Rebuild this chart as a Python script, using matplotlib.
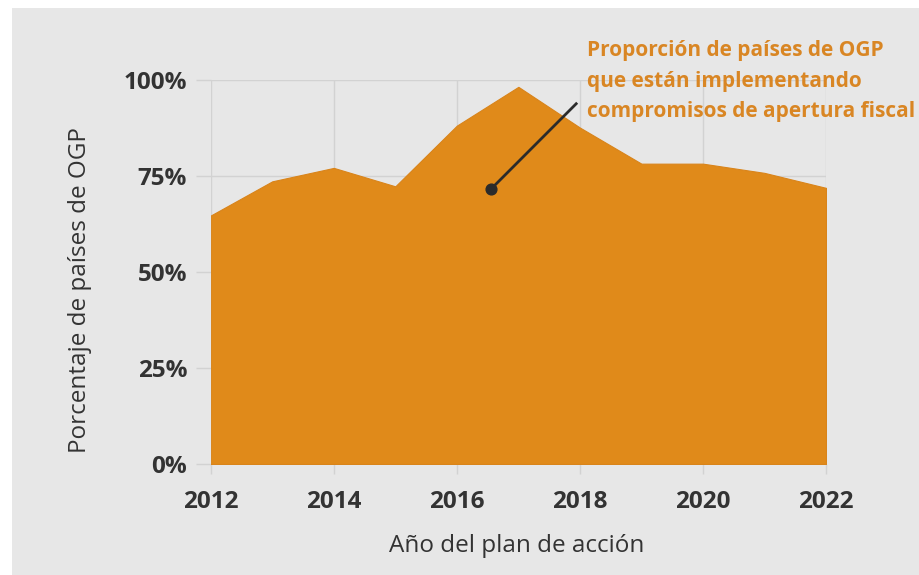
import matplotlib.pyplot as plt
from matplotlib.patches import Rectangle

plt.rcParams['font.family'] = ['Open Sans', 'DejaVu Sans']

# Datos
years = [2012, 2013, 2014, 2015, 2016, 2017, 2018, 2019, 2020, 2021, 2022]
share = [64.7, 73.6, 77.1, 72.3, 88.1, 98.2, 87.6, 78.2, 78.2, 75.8, 71.9]
x_ticks = [2012, 2014, 2016, 2018, 2020, 2022]
y_ticks = [0, 25, 50, 75, 100]
y_labels = ["0%", "25%", "50%", "75%", "100%"]
note_lines = ["Proporción de países de OGP",
              "que están implementando",
              "compromisos de apertura fiscal"]
note_point = (2016.55, 71.5)
note_end = (2017.94, 93.8)

bg = "#e7e7e7"
orange = "#e08a1a"
note_color = "#d98624"
txt = "#333333"
grid = "#d2d2d2"

fig = plt.figure(figsize=(9.19, 5.75), dpi=100)
fig.patch.set_facecolor("white")
fig.patches.append(Rectangle((12 / 919, 0), 907 / 919, 567 / 575,
                             transform=fig.transFigure, facecolor=bg,
                             edgecolor="none", zorder=-10))

ax = fig.add_axes([0.2293, 0.193, 0.6695, 0.668])
ax.set_facecolor(bg)
ax.fill_between(years, share, 0, color=orange, edgecolor="#d9841a",
                linewidth=0.8, zorder=2)

ax.set_xlim(2012, 2022)
ax.set_ylim(0, 100)
ax.set_xticks(x_ticks)
ax.set_yticks(y_ticks)
ax.set_yticklabels(y_labels)
ax.grid(True, color=grid, linewidth=1, zorder=0)
ax.set_axisbelow(True)
for s in ax.spines.values():
    s.set_visible(False)
ax.tick_params(axis="y", length=11, color=grid, width=1, pad=6,
               labelsize=17.5, labelcolor=txt)
ax.tick_params(axis="x", length=7.5, color=grid, width=1, pad=11,
               labelsize=17.5, labelcolor=txt)
for lab in ax.get_xticklabels() + ax.get_yticklabels():
    lab.set_fontweight("bold")

ax.set_xlabel("Año del plan de acción", fontsize=17.5, color=txt, va="center")
ax.xaxis.set_label_coords(0.498, -0.2135)
ax.set_ylabel("Porcentaje de países de OGP", fontsize=17.5, color=txt, va="center")
ax.yaxis.set_label_coords(-0.212, 0.453)

# Anotación
ax.plot([note_point[0], note_end[0]], [note_point[1], note_end[1]],
        color="#2b2b2b", linewidth=2, zorder=3, clip_on=False)
ax.scatter([note_point[0]], [note_point[1]], s=60, color="#2b2b2b", zorder=4)
fig.text(587 / 919, 0.930, "\n".join(note_lines), ha="left", va="top",
         fontsize=15, fontweight="bold", color=note_color, linespacing=1.6)

fig.savefig("out.png", dpi=100, facecolor=fig.get_facecolor())
